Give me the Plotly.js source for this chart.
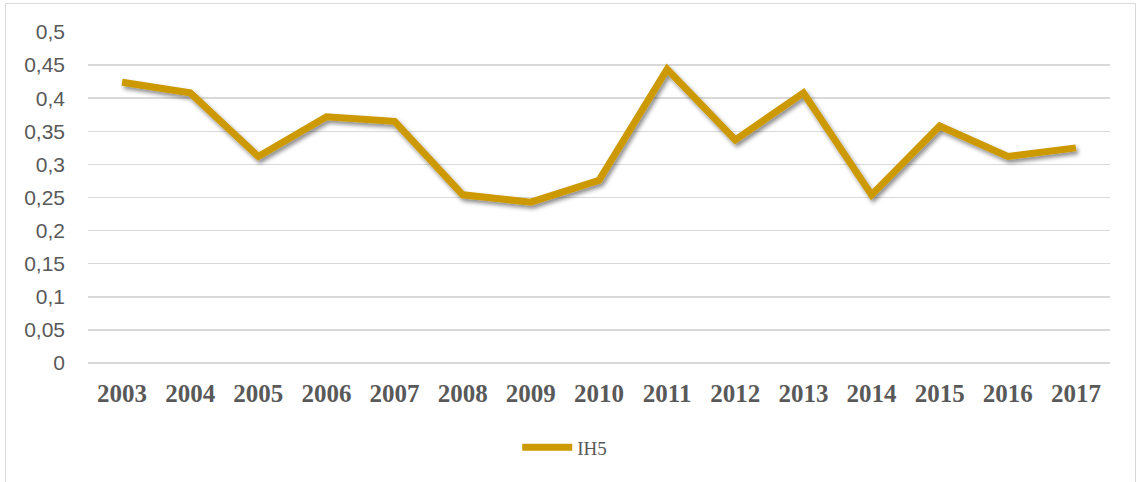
<!DOCTYPE html>
<html>
<head>
<meta charset="utf-8">
<script src="https://cdn.plot.ly/plotly-3.0.1.min.js"></script>
<style>
  html, body { margin: 0; padding: 0; background: #fff; }
  #wrap { position: relative; width: 1140px; height: 482px; overflow: hidden; }
  #chart { position: absolute; left: 0; top: 0; width: 1140px; height: 482px; }
  #frame { position: absolute; left: 5px; top: 3px; width: 1129px; height: 500px;
           border: 1.5px solid #d9d9d9; pointer-events: none; }
</style>
</head>
<body>
<div id="wrap">
  <div id="chart"></div>
  <div id="frame"></div>
</div>
<script>
const years = ['2003','2004','2005','2006','2007','2008','2009','2010','2011','2012','2013','2014','2015','2016','2017'];
const ih5 = [0.424, 0.408, 0.312, 0.372, 0.365, 0.254, 0.243, 0.276, 0.444, 0.337, 0.408, 0.254, 0.358, 0.312, 0.325];
const seriesName = 'IH5';

const trace = {
  x: years,
  y: ih5,
  type: 'scatter',
  mode: 'lines',
  name: seriesName,
  line: { color: '#CC9900', width: 7, shape: 'linear' },
  hoverinfo: 'skip'
};

const layout = {
  width: 1140,
  height: 482,
  margin: { l: 88, r: 30, t: 32, b: 119 },
  paper_bgcolor: 'rgba(0,0,0,0)',
  plot_bgcolor: 'rgba(0,0,0,0)',
  separators: ', ',
  showlegend: true,
  legend: {
    orientation: 'h',
    x: 0.42, xanchor: 'left',
    y: -0.255, yanchor: 'middle',
    font: { family: 'Liberation Serif, Times New Roman, serif', size: 19, color: '#595959' },
    itemwidth: 50,
    bgcolor: 'rgba(0,0,0,0)'
  },
  xaxis: {
    type: 'category',
    range: [-0.5, 14.5],
    showgrid: false,
    zeroline: false,
    showline: false,
    ticks: '',
    ticklabelstandoff: 13,
    tickfont: { family: 'Liberation Serif, Times New Roman, serif', size: 25, color: '#595959', weight: 'bold' },
    fixedrange: true
  },
  yaxis: {
    range: [0, 0.5],
    dtick: 0.05,
    tick0: 0,
    tickformat: '.2~f',
    showgrid: true,
    gridcolor: '#d9d9d9',
    gridwidth: 1.5,
    zeroline: true,
    zerolinecolor: '#d9d9d9',
    zerolinewidth: 1.5,
    showline: false,
    ticks: '',
    ticklabelstandoff: 22,
    tickfont: { family: 'Liberation Sans, Arial, sans-serif', size: 21, color: '#595959' },
    fixedrange: true
  }
};

function addShadow(gd) {
  const NS = 'http://www.w3.org/2000/svg';
  const svg = gd.querySelector('svg.main-svg');
  if (!svg) return;
  let defs = svg.querySelector('defs');
  if (!defs) { defs = document.createElementNS(NS, 'defs'); svg.insertBefore(defs, svg.firstChild); }
  if (!svg.querySelector('#lineShadow')) {
    const filter = document.createElementNS(NS, 'filter');
    filter.setAttribute('id', 'lineShadow');
    filter.setAttribute('filterUnits', 'userSpaceOnUse');
    filter.setAttribute('x', '0'); filter.setAttribute('y', '0');
    filter.setAttribute('width', '1140'); filter.setAttribute('height', '482');
    const fe = document.createElementNS(NS, 'feDropShadow');
    fe.setAttribute('dx', '2'); fe.setAttribute('dy', '3');
    fe.setAttribute('stdDeviation', '2.2');
    fe.setAttribute('flood-color', '#000'); fe.setAttribute('flood-opacity', '0.45');
    filter.appendChild(fe);
    defs.appendChild(filter);
  }
  gd.querySelectorAll('.scatterlayer .trace').forEach(function (g) {
    g.setAttribute('filter', 'url(#lineShadow)');
  });
}

Plotly.newPlot('chart', [trace], layout, { staticPlot: true, displayModeBar: false }).then(addShadow);
</script>
</body>
</html>
